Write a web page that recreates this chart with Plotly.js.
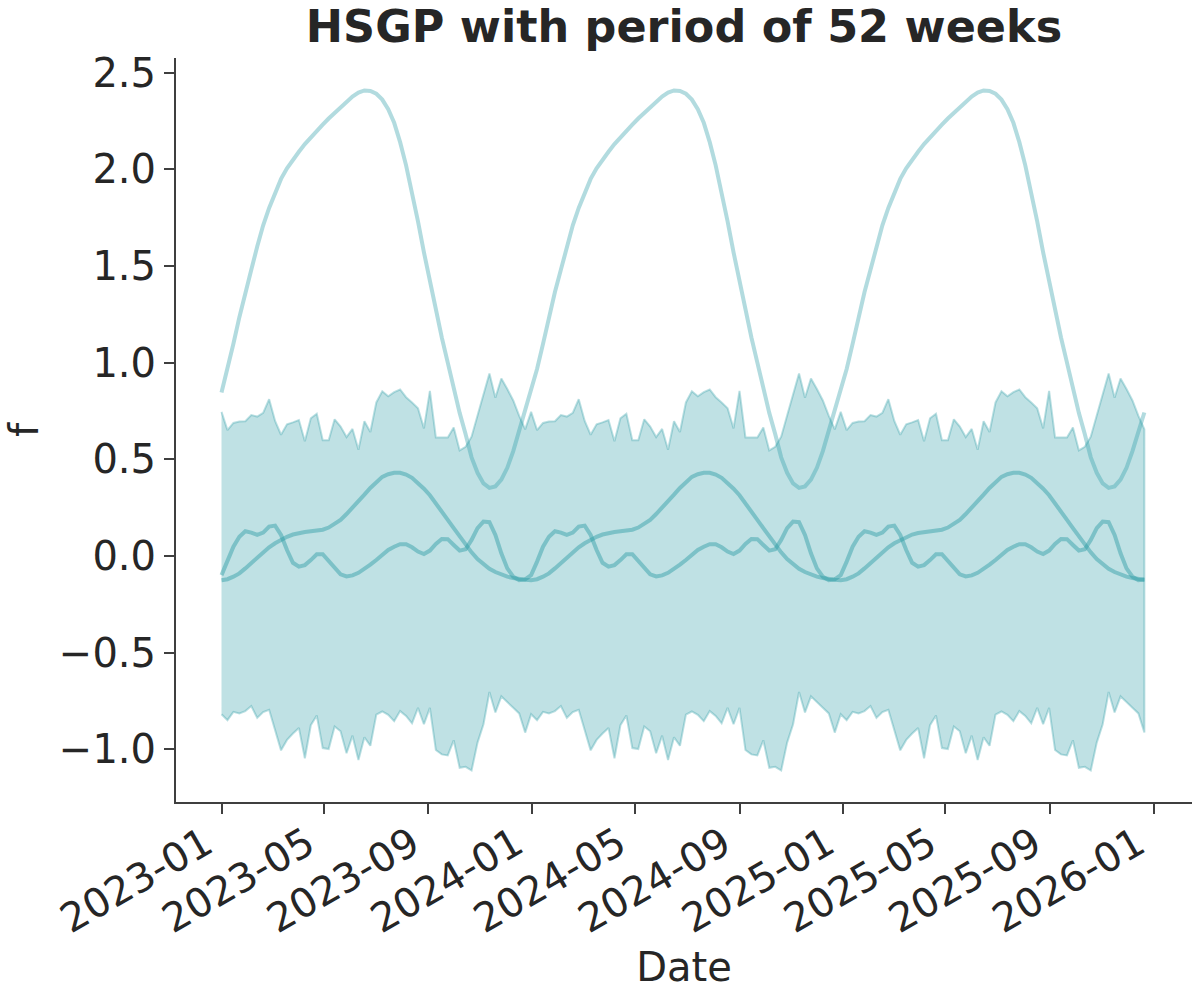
<!DOCTYPE html>
<html>
<head>
<meta charset="utf-8">
<script src="https://cdn.plot.ly/plotly-3.0.1.min.js"></script>
<style>
html, body { margin: 0; padding: 0; background: #ffffff; }
#chart { width: 1200px; height: 1000px; }
</style>
</head>
<body>
<div id="chart"></div>
<script>
// ---- data (one 52-week period; the chart repeats it exactly 3 times) ----
const startDate = '2023-01-01';
const periodCount = 3;
const chartTitle = 'HSGP with period of 52 weeks';
const xLabel = 'Date';
const yLabel = 'f';

const bandUpper = [0.745, 0.651, 0.688, 0.695, 0.697, 0.729, 0.721, 0.740, 0.811, 0.698,
  0.627, 0.681, 0.691, 0.703, 0.593, 0.712, 0.736, 0.599, 0.599, 0.707,
  0.669, 0.615, 0.657, 0.549, 0.697, 0.641, 0.794, 0.852, 0.826, 0.847,
  0.861, 0.821, 0.794, 0.764, 0.660, 0.854, 0.613, 0.613, 0.613, 0.665,
  0.546, 0.565, 0.617, 0.727, 0.838, 0.944, 0.818, 0.918, 0.863, 0.804,
  0.724, 0.655];

const bandLower = [-0.818, -0.849, -0.806, -0.814, -0.802, -0.776, -0.837, -0.807, -0.795, -0.901,
  -1.005, -0.951, -0.918, -0.889, -1.046, -0.875, -0.825, -0.993, -0.998, -0.882,
  -0.906, -1.020, -0.929, -1.055, -0.937, -0.981, -0.820, -0.804, -0.821, -0.854,
  -0.802, -0.827, -0.865, -0.785, -0.870, -0.785, -1.003, -1.026, -1.031, -0.953,
  -1.095, -1.090, -1.109, -0.965, -0.870, -0.703, -0.809, -0.726, -0.757, -0.785,
  -0.814, -0.913];

const fLarge = [0.845, 0.967, 1.097, 1.235, 1.365, 1.48, 1.60, 1.71, 1.80, 1.88,
  1.95, 2.005, 2.05, 2.09, 2.13, 2.165, 2.198, 2.23, 2.262, 2.292,
  2.322, 2.350, 2.376, 2.396, 2.407, 2.405, 2.39, 2.36, 2.31, 2.24,
  2.14, 2.02, 1.88, 1.73, 1.57, 1.42, 1.27, 1.13, 1.00, 0.86,
  0.74, 0.63, 0.51, 0.43, 0.375, 0.352, 0.36, 0.395, 0.456, 0.542,
  0.646, 0.742];

const fMedium = [-0.125, -0.120, -0.107, -0.090, -0.064, -0.035, -0.007, 0.021, 0.045, 0.066,
  0.083, 0.099, 0.111, 0.119, 0.124, 0.128, 0.131, 0.136, 0.147, 0.165,
  0.187, 0.217, 0.248, 0.282, 0.317, 0.352, 0.383, 0.409, 0.423, 0.430,
  0.430, 0.421, 0.404, 0.378, 0.348, 0.314, 0.274, 0.230, 0.187, 0.144,
  0.100, 0.057, 0.019, -0.016, -0.043, -0.066, -0.083, -0.097, -0.107, -0.114,
  -0.120, -0.123];

const fSmall = [-0.099, -0.029, 0.048, 0.100, 0.128, 0.121, 0.109, 0.121, 0.152, 0.157,
  0.109, 0.031, -0.035, -0.055, -0.047, -0.021, 0.009, 0.009, -0.024, -0.064,
  -0.095, -0.106, -0.100, -0.087, -0.068, -0.045, -0.021, 0.007, 0.031, 0.048,
  0.061, 0.061, 0.045, 0.023, 0.010, 0.028, 0.062, 0.088, 0.087, 0.057,
  0.028, 0.035, 0.083, 0.144, 0.178, 0.175, 0.109, 0.014, -0.064, -0.107,
  -0.125, -0.121];

// ---- build weekly dates and the repeated series ----
function repeatPeriod(arr) {
  let out = [];
  for (let p = 0; p < periodCount; p++) out = out.concat(arr);
  return out;
}
const upperAll = repeatPeriod(bandUpper);
const lowerAll = repeatPeriod(bandLower);
const largeAll = repeatPeriod(fLarge);
const mediumAll = repeatPeriod(fMedium);
const smallAll = repeatPeriod(fSmall);

const t0 = Date.parse(startDate + 'T00:00:00Z');
const dates = upperAll.map((_, i) => new Date(t0 + i * 7 * 86400000).toISOString().slice(0, 10));

const teal = '42,155,165';
const textColor = '#262626';
const axisColor = '#3f3f3f';
const fontFamily = '"DejaVu Sans", "Liberation Sans", sans-serif';

const traces = [
  {
    type: 'scatter', mode: 'lines',
    x: dates.concat(dates.slice().reverse()),
    y: upperAll.concat(lowerAll.slice().reverse()),
    fill: 'toself',
    fillcolor: 'rgba(' + teal + ',0.30)',
    line: { color: 'rgba(' + teal + ',0.32)', width: 2 },
    hoverinfo: 'skip', showlegend: false
  },
  {
    type: 'scatter', mode: 'lines', x: dates, y: largeAll,
    line: { color: 'rgba(' + teal + ',0.36)', width: 4 }, showlegend: false
  },
  {
    type: 'scatter', mode: 'lines', x: dates, y: mediumAll,
    line: { color: 'rgba(' + teal + ',0.45)', width: 4 }, showlegend: false
  },
  {
    type: 'scatter', mode: 'lines', x: dates, y: smallAll,
    line: { color: 'rgba(' + teal + ',0.45)', width: 4 }, showlegend: false
  }
];

const layout = {
  width: 1200, height: 1000,
  margin: { l: 176, r: 8, t: 58, b: 198 },
  paper_bgcolor: '#ffffff', plot_bgcolor: '#ffffff',
  showlegend: false,
  font: { family: fontFamily, color: textColor },
  title: {
    text: chartTitle,
    font: { family: fontFamily, size: 44.5, weight: 'bold', color: textColor },
    x: 0.5, xanchor: 'center', xref: 'paper',
    y: 0.974, yanchor: 'middle', yref: 'container'
  },
  xaxis: {
    type: 'date',
    range: ['2022-11-08 12:00', '2026-02-15'],
    tick0: '2023-01-01', dtick: 'M4', tickformat: '%Y-%m',
    tickangle: -30,
    ticks: 'outside', ticklen: 10, tickwidth: 2, tickcolor: axisColor,
    ticklabelshift: -16,
    ticklabelstandoff: -9,
    showline: true, linecolor: axisColor, linewidth: 2, mirror: false,
    showgrid: false, zeroline: false,
    tickfont: { family: fontFamily, size: 40, color: textColor },
    title: { text: xLabel, font: { family: fontFamily, size: 40, color: textColor }, standoff: 12 },
    automargin: false
  },
  yaxis: {
    range: [-1.272, 2.575],
    tick0: 0, dtick: 0.5, tickformat: '.1f',
    ticks: 'outside', ticklen: 10, tickwidth: 2, tickcolor: axisColor,
    showline: true, linecolor: axisColor, linewidth: 2, mirror: false,
    showgrid: false, zeroline: false,
    tickfont: { family: fontFamily, size: 40, color: textColor },
    title: { text: yLabel, font: { family: fontFamily, size: 40, color: textColor }, standoff: 8 },
    automargin: false
  }
};

Plotly.newPlot('chart', traces, layout, { displayModeBar: false, staticPlot: true });
</script>
</body>
</html>
